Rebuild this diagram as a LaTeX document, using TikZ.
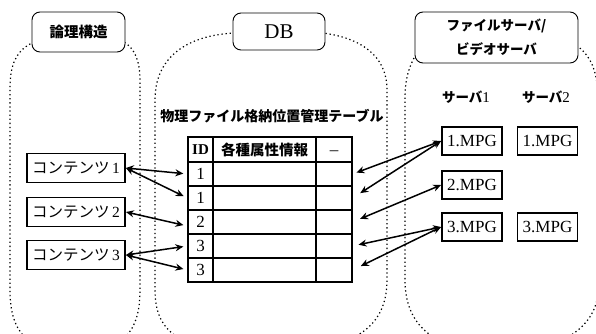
\documentclass[tikz,border=0pt]{standalone}
\usepackage{fontspec}
\setmainfont{Liberation Serif}
\newfontfamily\jp{Noto Sans CJK JP}
\usetikzlibrary{arrows.meta}
\tikzset{
  region/.style={draw, line width=1.2pt, dash pattern=on 1.3pt off 2.8pt},
  hdr/.style={draw, rounded corners=8pt, fill=white, line width=0.9pt, inner sep=0pt, align=center},
  cbox/.style={draw, line width=1.8pt, minimum width=98pt, minimum height=29pt, inner sep=0pt, font=\fontsize{15.5}{18}\selectfont},
  mbox/.style={draw, line width=1.8pt, minimum width=60pt, minimum height=28pt, inner sep=0pt, font=\fontsize{17}{18}\selectfont},
  cell/.style={draw, line width=1.3pt, inner sep=0pt, font=\fontsize{17}{18}\selectfont},
  arr/.style={{Stealth[length=8pt,width=7pt]}-{Stealth[length=8pt,width=7pt]}, line width=1.5pt},
  lbl/.style={inner sep=0pt, font=\fontsize{13.5}{15}\selectfont\jp\bfseries}
}
\begin{document}
\begin{tikzpicture}[x=1pt,y=-1pt]
\useasboundingbox (0,0) rectangle (596,334);
\clip (0,0) rectangle (596,334);
% regions
\draw[region] (34,42) .. controls (16,50) and (10,65) .. (10,88) -- (10,290)
  .. controls (10,335) and (30,352) .. (75,352) .. controls (120,352) and (140,335) .. (140,290)
  -- (140,80) .. controls (140,60) and (134,48) .. (124,42);
\draw[region] (235,33) .. controls (190,35) and (155,55) .. (155,100) -- (155,290)
  .. controls (155,340) and (190,352) .. (270,352) .. controls (350,352) and (387,330) .. (387,280)
  -- (387,90) .. controls (387,55) and (360,38) .. (323,33);
\draw[region] (414,58) .. controls (408,70) and (405,80) .. (405,100) -- (405,280)
  .. controls (405,330) and (440,352) .. (500,352) .. controls (570,352) and (598,320) .. (598,290)
  -- (598,100) .. controls (598,70) and (590,55) .. (576,45);
% headers
\node[hdr, minimum width=93pt, minimum height=40pt, font=\fontsize{14.5}{16}\selectfont\jp\bfseries] (hl) at (78.5,32) {論理構造};
\node[hdr, minimum width=92pt, minimum height=37pt, font=\fontsize{21}{24}\selectfont] (hdb) at (279,31.5) {DB};
\node[hdr, minimum width=163pt, minimum height=51pt, font=\fontsize{13.5}{24}\selectfont\jp\bfseries] (hr) at (496.5,37.5) {ファイルサーバ/\\ビデオサーバ};
% left boxes
\node[cbox] (c1) at (76,168) {{\jp コンテンツ}\,1};
\node[cbox] (c2) at (76,212) {{\jp コンテンツ}\,2};
\node[cbox] (c3) at (76,255) {{\jp コンテンツ}\,3};
% table
\node[inner sep=0pt, font=\fontsize{14}{16}\selectfont\jp\bfseries] (ttl) at (272,116) {物理ファイル格納位置管理テーブル};
\node[cell, minimum width=25pt, minimum height=25pt, font=\fontsize{15}{18}\selectfont\bfseries] (id0) at (200.5,149.5) {ID};
\node[cell, minimum width=103pt, minimum height=25pt, font=\fontsize{14.5}{18}\selectfont\jp\bfseries] (in0) at (264.5,149.5) {各種属性情報};
\node[cell, minimum width=36pt, minimum height=25pt] (ex0) at (334,149.5) {\raisebox{-3pt}{\_}};
\foreach \i/\t/\y in {1/1/174,2/1/198,3/2/222,4/3/246,5/3/270}{
  \node[cell, minimum width=25pt, minimum height=24pt] (id\i) at (200.5,\y) {\t};
  \node[cell, minimum width=103pt, minimum height=24pt] (in\i) at (264.5,\y) {};
  \node[cell, minimum width=36pt, minimum height=24pt] (ex\i) at (334,\y) {};
}
% servers
\node[lbl] (s1) at (466,97) {サーバ{\normalfont\fontsize{15}{16}\selectfont 1}};
\node[lbl] (s2) at (546,97) {サーバ{\normalfont\fontsize{15}{16}\selectfont 2}};
\node[mbox] (m1) at (472,141) {1.MPG};
\node[mbox] (m2) at (472,185) {2.MPG};
\node[mbox] (m3) at (472,227) {3.MPG};
\node[mbox] (n1) at (547.5,141) {1.MPG};
\node[mbox] (n3) at (547.5,227) {3.MPG};
% arrows left
\draw[arr, shorten >=4pt] (c1.east) -- (id1.west);
\draw[arr, shorten >=4pt] (c1.east) -- (id2.west);
\draw[arr, shorten >=4pt] (c2.east) -- ([yshift=-4pt]id3.west);
\draw[arr, shorten >=4pt] (c3.east) -- (id4.west);
\draw[arr, shorten >=4pt] (c3.east) -- (id5.west);
% arrows right
\draw[arr, shorten <=4pt] (ex1.east) -- (m1.west);
\draw[arr, shorten <=9pt] (ex2.east) -- (m1.west);
\draw[arr, shorten <=8pt] (ex3.east) -- (m2.west);
\draw[arr, shorten <=6pt] (ex4.east) -- (m3.west);
\draw[arr, shorten <=9pt] (ex5.east) -- (m3.west);
\end{tikzpicture}
\end{document}
